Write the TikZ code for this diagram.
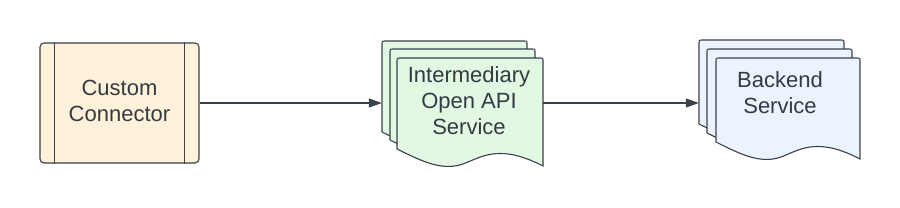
\documentclass[tikz,border=0pt]{standalone}
\usepackage{fontspec}
\setmainfont{Liberation Sans}
\usetikzlibrary{arrows.meta}

\definecolor{linegray}{HTML}{3A414A}
\definecolor{txtgray}{HTML}{333A42}
\definecolor{connfill}{HTML}{FFF1DA}
\definecolor{apifill}{HTML}{E3F8E3}
\definecolor{backfill}{HTML}{EDF3FE}

% one sheet of a document stack: x, y (top left), width, height of left edge, fill
\newcommand{\docsheet}[5]{%
  \filldraw[sheet, fill=#5] (#1,#2+#4) -- (#1,#2+4) .. controls (#1,#2) .. (#1+4,#2)
    -- (#1+#3-4,#2) .. controls (#1+#3,#2) .. (#1+#3,#2+4) -- (#1+#3,#2+#4+17)
    .. controls ({#1+0.72*#3},#2+#4-4) and ({#1+0.6*#3},#2+#4+6) .. ({#1+0.47*#3},#2+#4+14)
    .. controls ({#1+0.32*#3},#2+#4+23) and ({#1+0.18*#3},#2+#4+13) .. (#1,#2+#4) -- cycle;}

\begin{document}
\begin{tikzpicture}[x=1pt, y=-1pt,
    sheet/.style={draw=linegray, line width=1.1pt},
    label/.style={text=txtgray, align=center, font=\fontsize{22}{26}\selectfont},
    arr/.style={draw=linegray, line width=1.1pt, -{Triangle[length=13pt, width=9pt]}}]
    \useasboundingbox (0,0) rectangle (900,207);

    % custom connector
    \node[sheet, fill=connfill, rounded corners=4pt, minimum width=159pt, minimum height=120pt] (cc) at (119.5,103) {};
    \draw[sheet] ([xshift=15pt]cc.north west) -- ([xshift=15pt]cc.south west);
    \draw[sheet] ([xshift=-15pt]cc.north east) -- ([xshift=-15pt]cc.south east);
    \node[label] (cctext) at (119.5,101) {Custom\\Connector};

    % intermediary service
    \docsheet{382}{41}{145}{91}{apifill}
    \docsheet{390}{49}{145}{91}{apifill}
    \docsheet{397}{58}{146}{91}{apifill}
    \node[minimum width=161pt, minimum height=126pt, inner sep=0pt] (ias) at (462.5,103) {};
    \node[label] (iastext) at (469,101) {Intermediary\\Open API\\Service};

    % backend service
    \docsheet{699}{40}{145}{84}{backfill}
    \docsheet{707}{49}{145}{84}{backfill}
    \docsheet{716}{58}{144}{84}{backfill}
    \node[minimum width=161pt, minimum height=120pt, inner sep=0pt] (bs) at (779.5,103) {};
    \node[label] (bstext) at (780,93) {Backend\\Service};

    \draw[arr] (cc.east) -- (ias.west);
    \draw[arr] (ias.east) -- (bs.west);
\end{tikzpicture}
\end{document}
